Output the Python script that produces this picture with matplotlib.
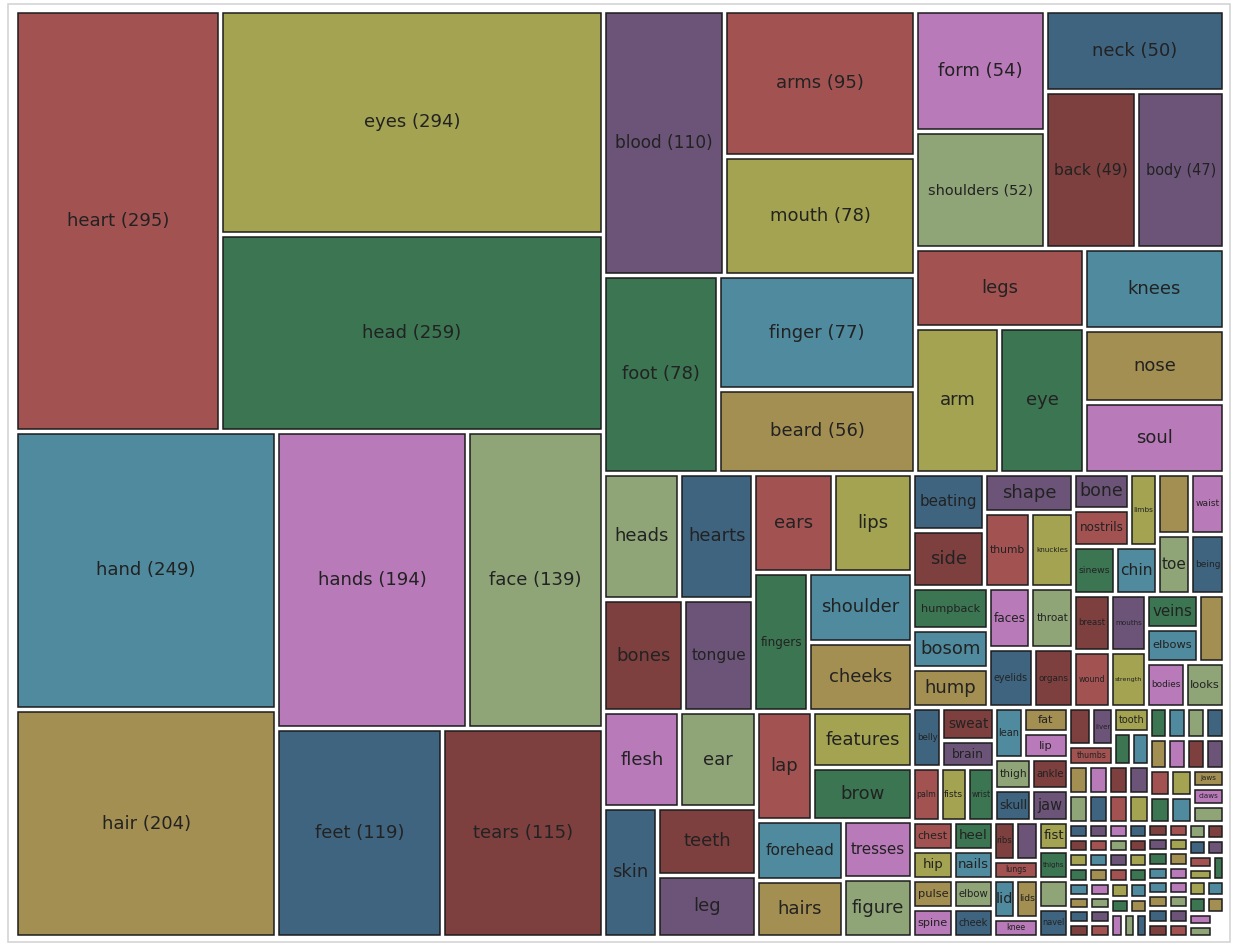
import matplotlib
matplotlib.use("Agg")
import matplotlib.pyplot as plt
from matplotlib.patches import Rectangle
from matplotlib.textpath import TextPath
from matplotlib.font_manager import FontProperties

# word counts, largest first (order used by the layout)
top_words = ['heart', 'eyes', 'head', 'hand', 'hair', 'hands', 'face', 'feet', 'tears', 'blood',
             'arms', 'mouth', 'foot', 'finger', 'beard', 'form', 'shoulders', 'neck', 'back', 'body']
top_counts = [295, 294, 259, 249, 204, 194, 139, 119, 115, 110,
              95, 78, 78, 77, 56, 54, 52, 50, 49, 47]

mid_words = ['legs', 'arm', 'eye', 'knees', 'nose', 'soul',
             'heads', 'hearts', 'bones', 'tongue', 'ears', 'lips', 'fingers', 'shoulder', 'cheeks',
             'flesh', 'ear', 'skin', 'teeth', 'leg', 'lap', 'features', 'brow', 'forehead', 'hairs',
             'tresses', 'figure']
mid_counts = [46, 42, 42, 39, 35, 34,
              33, 32, 31, 27, 27, 27, 26, 25, 25,
              25, 25, 24, 23, 21, 21, 19, 18, 18, 17,
              14, 14]

small_words = ['beating', 'side', 'shape', 'thumb', 'knuckles', 'humpback', 'bosom', 'hump',
               'faces', 'throat', 'eyelids', 'organs',
               'bone', 'nostrils', 'limbs', 'sinews', 'chin', 'eyebrow', 'waist', 'toe', 'being',
               'breast', 'mouths', 'wound', 'strength', 'veins', 'elbows', 'temples', 'bodies', 'looks']
small_counts = [14, 14, 12, 12, 11, 11, 10, 10,
                9, 9, 9, 8,
                7, 7, 7, 7, 7, 7, 7, 7, 7,
                7, 7, 7, 7, 6, 6, 6, 6, 6]

tiny_words = ['belly', 'sweat', 'brain', 'palm', 'fists', 'wrist', 'lean',
              'fat', 'lip', 'thigh', 'skull', 'ankle', 'jaw', 'chest', 'hip', 'heel', 'nails',
              'pulse', 'spine', 'elbow', 'cheek',
              'ribs', 'stomach', 'lungs', 'fist', 'thighs', 'lid', 'lids', 'knee', 'moustache',
              'navel', 'womb', 'liver', 'thumbs', 'tooth',
              'heels', 'ankles', 'nerves', 'pupils', 'lashes', 'brows', 'temple', 'kidneys',
              'bowels', 'skeleton', 'muscles', 'sinew', 'teat', 'hips', 'wrists', 'palms',
              'forearm', 'chins', 'cheekbones', 'nape', 'instep', 'gums', 'jaws', 'claws', 'marrow',
              'spleen', 'tonsils', 'nipple', 'torso', 'trunk', 'paunch', 'flank', 'loins', 'groin',
              'buttocks', 'calf', 'calves', 'shin', 'shins', 'sole', 'soles', 'toes', 'toenail',
              'fingernail', 'knuckle', 'thumbnail', 'eyeball', 'eyeballs', 'eyelash', 'eyelid',
              'iris', 'retina', 'earlobe', 'heartbeat', 'bladder', 'artery', 'arteries', 'vein',
              'gland', 'glands', 'tendon', 'tendons', 'cartilage', 'bosoms', 'breasts', 'bellies',
              'forearms', 'armpit', 'collarbone', 'backbone', 'jawbone', 'hipbone', 'kneecap',
              'ribcage', 'scalp', 'skulls', 'brains', 'beards', 'moustaches', 'fingertips',
              'palate', 'larynx', 'windpipe', 'gullet', 'navels']
tiny_counts = [6, 6, 5, 5, 5, 5, 5] + [4] * 14 + [3] * 14 + [2] * 25 + [1] * 61

words = top_words + mid_words + small_words + tiny_words
counts = top_counts + mid_counts + small_counts + tiny_counts

palette = ['#a35252', '#a3a352', '#3b7552', '#4f8a9e', '#a38f52',
           '#b87ab8', '#8fa578', '#3f6480', '#7e3f3f', '#6b5478']


def binary_layout(values, x0, y0, x1, y1):
    # balanced binary split of the sorted values, like d3.treemapBinary
    sums = [0]
    for v in values:
        sums.append(sums[-1] + v)
    rects = [None] * len(values)

    def partition(i, j, value, x0, y0, x1, y1):
        if i >= j - 1:
            rects[i] = (x0, y0, x1, y1)
            return
        offset = sums[i]
        target = value / 2 + offset
        k, hi = i + 1, j - 1
        while k < hi:
            mid = (k + hi) // 2
            if sums[mid] < target:
                k = mid + 1
            else:
                hi = mid
        if target - sums[k - 1] < sums[k] - target and i + 1 < k:
            k -= 1
        left = sums[k] - offset
        right = value - left
        if (x1 - x0) > (y1 - y0):
            xk = (x0 * right + x1 * left) / value
            partition(i, k, left, x0, y0, xk, y1)
            partition(k, j, right, xk, y0, x1, y1)
        else:
            yk = (y0 * right + y1 * left) / value
            partition(i, k, left, x0, y0, x1, yk)
            partition(k, j, right, x0, yk, x1, y1)

    partition(0, len(values), sums[-1], x0, y0, x1, y1)
    return rects


W, H = 1235, 943
fig = plt.figure(figsize=(W / 100, H / 100), dpi=100)
ax = fig.add_axes([0, 0, 1, 1])
ax.set_xlim(0, W)
ax.set_ylim(H, 0)
ax.axis('off')

# light outer frame
ax.add_patch(Rectangle((7.5, 3.5), 1222, 938, fill=False, ec='#d4d4d4', lw=1.2))

pad = 2.5
px_per_pt = 100 / 72
font = FontProperties(family='DejaVu Sans')
rects = binary_layout(counts, 15.5, 10.5, 1224.5, 937.5)

for i, (word, n, r) in enumerate(zip(words, counts, rects)):
    x0, y0, x1, y1 = r
    x0, y0, x1, y1 = x0 + pad, y0 + pad, x1 - pad, y1 - pad
    ax.add_patch(Rectangle((x0, y0), x1 - x0, y1 - y0, fc=palette[i % 10],
                           ec='#1c1c1c', lw=1.1))
    label = f'{word} ({n})' if i < 20 else word
    w_em = TextPath((0, 0), label, size=1, prop=font).get_extents().width
    fs = min(13, 0.82 * (x1 - x0) / (w_em * px_per_pt), 0.55 * (y1 - y0) / px_per_pt)
    if fs >= 4.5:
        ax.text((x0 + x1) / 2, (y0 + y1) / 2, label, ha='center', va='center',
                fontsize=fs, color='#222222', family='DejaVu Sans')

plt.savefig('out.png', dpi=100)
plt.close()
